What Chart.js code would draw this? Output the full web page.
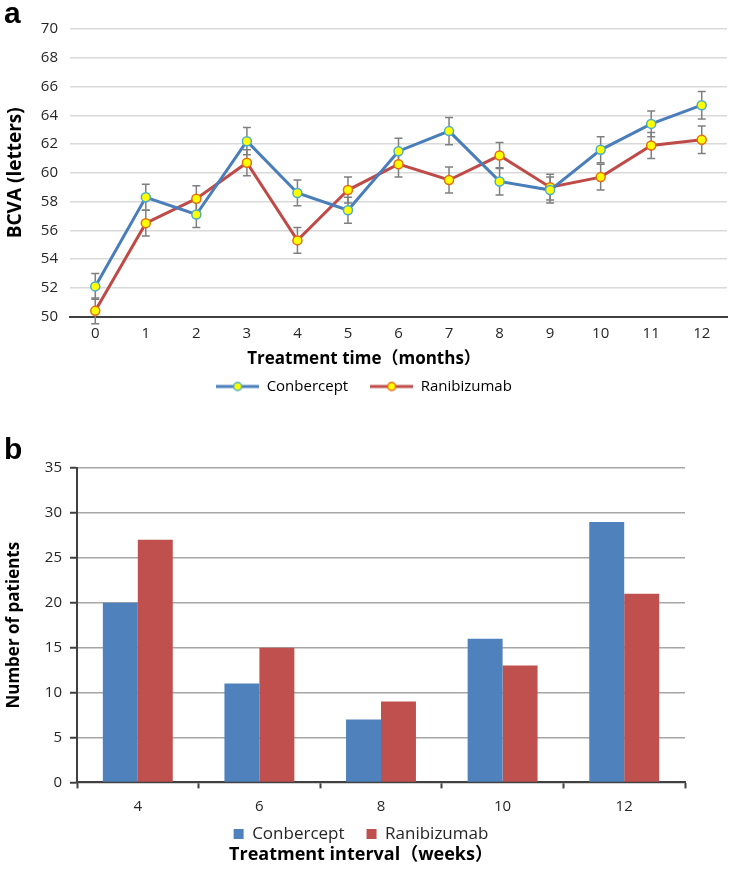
<!DOCTYPE html>
<html>
<head>
<meta charset="utf-8">
<script src="https://cdn.jsdelivr.net/npm/chart.js@4.4.1/dist/chart.umd.min.js"></script>
<style>
  body { margin: 0; background: #fff; width: 733px; height: 875px; overflow: hidden; position: relative; }
  .tag { position: absolute; font: bold 30px Arial, "Liberation Sans", sans-serif; color: #000; }
  #boxA { position: absolute; left: 0; top: 0; width: 733px; height: 421px; }
  #boxB { position: absolute; left: 0; top: 410px; width: 733px; height: 483px; }
</style>
</head>
<body>
<div id="boxA"><canvas id="chartA"></canvas></div>
<div id="boxB"><canvas id="chartB"></canvas></div>
<div class="tag" style="left:4px;top:-4px">a</div>
<div class="tag" style="left:4px;top:432px">b</div>
<script>
// panel a: BCVA over time
const months = ['0', '1', '2', '3', '4', '5', '6', '7', '8', '9', '10', '11', '12'];
const conberceptBcva = [52.1, 58.3, 57.1, 62.2, 58.6, 57.4, 61.5, 62.9, 59.4, 58.8, 61.6, 63.4, 64.7];
const ranibizumabBcva = [50.4, 56.5, 58.2, 60.7, 55.3, 58.8, 60.6, 59.5, 61.2, 59.0, 59.7, 61.9, 62.3];
const conberceptErr = [0.9, 0.9, 0.9, 0.95, 0.9, 0.9, 0.9, 0.95, 0.95, 0.9, 0.9, 0.9, 0.95];
const ranibizumabErr = [0.9, 0.9, 0.9, 0.9, 0.9, 0.9, 0.9, 0.9, 0.9, 0.9, 0.9, 0.9, 0.95];

// panel b: treatment interval
const intervals = ['4', '6', '8', '10', '12'];
const conberceptPatients = [20, 11, 7, 16, 29];
const ranibizumabPatients = [27, 15, 9, 13, 21];

const BLUE = '#4a7ebb';
const RED = '#be4b48';
const SANS = 'Open Sans, "Noto Sans", sans-serif';
const CJK = 'Open Sans, "Noto Sans CJK SC", sans-serif';
const tickFont = { family: SANS, size: 15 };

// legend marker: line with a yellow dot
function lineMarker(color, ring) {
  const c = document.createElement('canvas');
  c.width = 43; c.height = 12;
  const g = c.getContext('2d');
  g.strokeStyle = color; g.lineWidth = 3;
  g.beginPath(); g.moveTo(0, 6); g.lineTo(43, 6); g.stroke();
  g.fillStyle = '#ffff00'; g.strokeStyle = ring; g.lineWidth = 1.5;
  g.beginPath(); g.arc(21.5, 6, 4, 0, Math.PI * 2); g.fill(); g.stroke();
  return c;
}

const errorBars = {
  id: 'errorBars',
  beforeDatasetsDraw(chart) {
    const ctx = chart.ctx;
    const y = chart.scales.y;
    ctx.save();
    ctx.strokeStyle = '#7f7f7f';
    ctx.lineWidth = 1.5;
    chart.data.datasets.forEach((ds, i) => {
      const meta = chart.getDatasetMeta(i);
      meta.data.forEach((pt, j) => {
        const top = y.getPixelForValue(ds.data[j] + ds.err[j]);
        const bot = y.getPixelForValue(ds.data[j] - ds.err[j]);
        ctx.beginPath();
        ctx.moveTo(pt.x, top); ctx.lineTo(pt.x, bot);
        ctx.moveTo(pt.x - 4, top); ctx.lineTo(pt.x + 4, top);
        ctx.moveTo(pt.x - 4, bot); ctx.lineTo(pt.x + 4, bot);
        ctx.stroke();
      });
    });
    ctx.restore();
  }
};

// the legend padding also spaces the items apart, so pull the boxes back up afterwards
const liftBoxes = {
  id: 'liftBoxes',
  afterLayout(chart, args, opts) {
    const move = (box, px) => { if (box && px) { box.top -= px; box.bottom -= px; } };
    move(chart.legend, opts.legend);
    move(chart.titleBlock, opts.title);
  }
};

new Chart(document.getElementById('chartA'), {
  type: 'line',
  data: {
    labels: months,
    datasets: [
      { label: 'Conbercept', data: conberceptBcva, err: conberceptErr, borderColor: BLUE, borderWidth: 3,
        pointBackgroundColor: '#ffff00', pointBorderColor: '#4bacc6', pointBorderWidth: 1.5, pointRadius: 4.5,
        tension: 0, ring: '#4bacc6' },
      { label: 'Ranibizumab', data: ranibizumabBcva, err: ranibizumabErr, borderColor: RED, borderWidth: 3,
        pointBackgroundColor: '#ffff00', pointBorderColor: '#e46c0a', pointBorderWidth: 1.5, pointRadius: 4.5,
        tension: 0, ring: '#e46c0a' }
    ]
  },
  options: {
    responsive: true,
    maintainAspectRatio: false,
    animation: false,
    layout: { padding: { top: 29, right: 5, bottom: 1 } },
    plugins: {
      tooltip: { enabled: false },
      liftBoxes: { legend: 16, title: 0 },
      title: {
        display: true,
        position: 'bottom',
        weight: 500,
        text: 'Treatment time（months）',
        color: '#000',
        font: { family: CJK, size: 17, weight: 'bold' },
        padding: { top: 4, bottom: 4 }
      },
      legend: {
        position: 'bottom',
        weight: 1000,
        labels: {
          usePointStyle: true,
          pointStyleWidth: 43,
          padding: 22,
          color: '#000',
          font: { family: SANS, size: 15 },
          generateLabels(chart) {
            return chart.data.datasets.map((ds, i) => ({
              text: ds.label, datasetIndex: i, pointStyle: lineMarker(ds.borderColor, ds.ring),
              fillStyle: ds.borderColor, strokeStyle: ds.borderColor, lineWidth: 0, hidden: false
            }));
          }
        }
      }
    },
    scales: {
      x: {
        offset: true,
        grid: { display: false, drawTicks: false },
        border: { display: true, color: '#404040', width: 2 },
        ticks: { color: '#262626', font: tickFont, padding: 8 },
        afterFit(s) { s.height = 28; }
      },
      y: {
        min: 50, max: 70,
        ticks: { stepSize: 2, color: '#262626', font: tickFont, padding: 12 },
        grid: { color: '#d9d9d9', lineWidth: 1.5, drawTicks: false },
        border: { display: false },
        title: { display: true, text: 'BCVA (letters)', color: '#000', font: { family: SANS, size: 19, weight: 'bold' }, padding: { top: 4, bottom: 0 } },
        afterFit(s) { s.width = 70; }
      }
    }
  },
  plugins: [errorBars, liftBoxes]
});

new Chart(document.getElementById('chartB'), {
  type: 'bar',
  data: {
    labels: intervals,
    datasets: [
      { label: 'Conbercept', data: conberceptPatients, backgroundColor: '#4f81bd', barPercentage: 1, categoryPercentage: 0.575 },
      { label: 'Ranibizumab', data: ranibizumabPatients, backgroundColor: '#c0504d', barPercentage: 1, categoryPercentage: 0.575 }
    ]
  },
  options: {
    responsive: true,
    maintainAspectRatio: false,
    animation: false,
    layout: { padding: { top: 58, right: 11, bottom: 3 } },
    plugins: {
      tooltip: { enabled: false },
      liftBoxes: { legend: 17, title: 16 },
      legend: {
        position: 'bottom',
        weight: 1000,
        labels: { boxWidth: 10, boxHeight: 10, padding: 22, color: '#262626', font: { family: SANS, size: 17 } }
      },
      title: {
        display: true,
        position: 'bottom',
        weight: 2000,
        text: 'Treatment interval（weeks）',
        color: '#000',
        font: { family: CJK, size: 18, weight: 'bold' },
        padding: { top: -9, bottom: 8 }
      }
    },
    scales: {
      x: {
        grid: { drawOnChartArea: false, tickLength: 6, tickColor: '#404040', tickWidth: 2 },
        border: { display: true, color: '#404040', width: 2 },
        ticks: { color: '#262626', font: tickFont, padding: 9 },
        afterFit(s) { s.height = 38; }
      },
      y: {
        min: 0, max: 35,
        ticks: { stepSize: 5, color: '#262626', font: tickFont, padding: 8 },
        grid: { color: '#a6a6a6', lineWidth: 1.5, tickLength: 7, tickColor: '#404040', tickWidth: 2 },
        border: { display: true, color: '#404040', width: 2 },
        title: { display: true, text: 'Number of patients', color: '#000', font: { family: SANS, size: 17, weight: 'bold' }, padding: { top: 4, bottom: 0 } },
        afterFit(s) { s.width = 77; }
      },
      // empty spacer on the right so the legend and title centre on the page
      yRight: {
        position: 'right',
        display: true,
        grid: { display: false },
        border: { display: false },
        ticks: { display: false },
        afterFit(s) { s.width = 37; }
      }
    }
  },
  plugins: [liftBoxes]
});
</script>
</body>
</html>
